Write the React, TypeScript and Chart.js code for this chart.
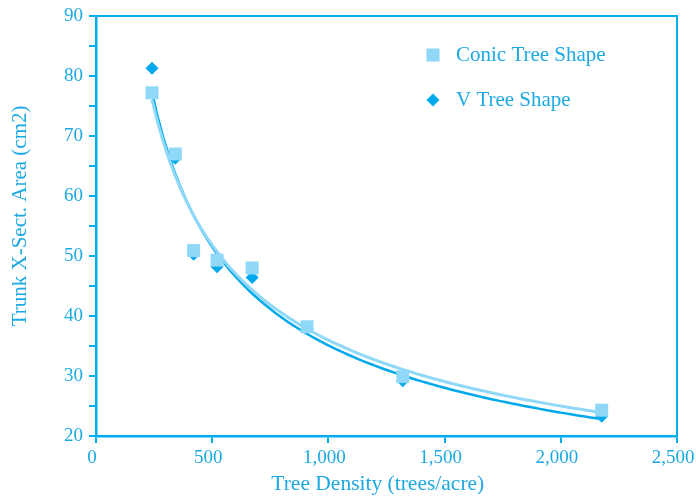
import React, { useEffect, useRef } from "react";
import { Chart, registerables } from "chart.js";

Chart.register(...registerables);

// ---- data ----
const densities = [241, 341, 420, 521, 672, 908, 1320, 2176];
const conicArea = [77.2, 67.0, 50.9, 49.3, 48.0, 38.2, 29.9, 24.3];
const vArea = [81.3, 66.3, 50.3, 48.2, 46.4, 37.9, 29.2, 23.3];
const seriesNames = ["Conic Tree Shape", "V Tree Shape"];
const xTitle = "Tree Density (trees/acre)";
const yTitle = "Trunk X-Sect. Area (cm2)";
const xTickStep = 500;
const yTickStep = 5;

const AXIS = "#00AEEF";
const TEXT = "#1CA9E2";
const LIGHT = "#8FD8F8";
const DARK = "#00A9EC";
const FONT = "'Liberation Serif', 'Times New Roman', serif";

// power-law trendline (least squares in log space), like the spreadsheet trendline
function powerTrend(xs: number[], ys: number[]) {
  const lx = xs.map(Math.log);
  const ly = ys.map(Math.log);
  const n = xs.length;
  const mx = lx.reduce((s, v) => s + v, 0) / n;
  const my = ly.reduce((s, v) => s + v, 0) / n;
  let sxy = 0, sxx = 0;
  for (let i = 0; i < n; i++) {
    sxy += (lx[i] - mx) * (ly[i] - my);
    sxx += (lx[i] - mx) ** 2;
  }
  const b = sxy / sxx;
  const a = Math.exp(my - b * mx);
  const lo = Math.min(...xs), hi = Math.max(...xs);
  const pts: { x: number; y: number }[] = [];
  const steps = 80;
  for (let i = 0; i <= steps; i++) {
    const x = lo + ((hi - lo) * i) / steps;
    pts.push({ x, y: a * Math.pow(x, b) });
  }
  return pts;
}

const overlay = {
  id: "overlay",
  afterDraw(chart: any) {
    const { ctx, chartArea: a } = chart;
    ctx.save();
    // top & right frame
    ctx.strokeStyle = AXIS;
    ctx.lineWidth = 2;
    ctx.beginPath();
    ctx.moveTo(a.left, a.top);
    ctx.lineTo(a.right, a.top);
    ctx.lineTo(a.right, a.bottom);
    ctx.stroke();

    // axis titles
    ctx.fillStyle = TEXT;
    ctx.textAlign = "center";
    ctx.textBaseline = "middle";
    ctx.font = `21.5px ${FONT}`;
    ctx.fillText(xTitle, a.left + (a.right - a.left) * 0.485, a.bottom + 48);
    ctx.save();
    ctx.translate(20, a.top + (a.bottom - a.top) * 0.476);
    ctx.rotate(-Math.PI / 2);
    ctx.font = `21px ${FONT}`;
    ctx.fillText(yTitle, 0, 0);
    ctx.restore();

    // legend
    const lx = a.left + (a.right - a.left) * 0.58;
    const rows = [a.top + 39, a.top + 84];
    ctx.font = `21px ${FONT}`;
    ctx.textAlign = "left";
    // square
    ctx.fillStyle = LIGHT;
    ctx.fillRect(lx - 6.5, rows[0] - 6.5, 13, 13);
    // diamond
    ctx.fillStyle = DARK;
    ctx.beginPath();
    ctx.moveTo(lx, rows[1] - 6.5);
    ctx.lineTo(lx + 6.5, rows[1]);
    ctx.lineTo(lx, rows[1] + 6.5);
    ctx.lineTo(lx - 6.5, rows[1]);
    ctx.closePath();
    ctx.fill();
    ctx.fillStyle = TEXT;
    ctx.fillText(seriesNames[0], lx + 23, rows[0]);
    ctx.fillText(seriesNames[1], lx + 23, rows[1]);
    ctx.restore();
  },
};

export default function App() {
  const ref = useRef<HTMLCanvasElement | null>(null);
  useEffect(() => {
    document.body.style.margin = "0";
    const conicPts = densities.map((x, i) => ({ x, y: conicArea[i] }));
    const vPts = densities.map((x, i) => ({ x, y: vArea[i] }));
    const chart = new Chart(ref.current!, {
      type: "scatter",
      data: {
        datasets: [
          {
            label: seriesNames[0],
            data: conicPts,
            pointStyle: "rect",
            pointRadius: 9.2,
            pointHoverRadius: 9.2,
            backgroundColor: LIGHT,
            borderWidth: 0,
            order: 0,
          },
          {
            label: seriesNames[1],
            data: vPts,
            pointStyle: "rectRot",
            pointRadius: 6.5,
            pointHoverRadius: 6.5,
            backgroundColor: DARK,
            borderWidth: 0,
            order: 1,
          },
          {
            label: "conic trend",
            type: "line",
            data: powerTrend(densities, conicArea),
            borderColor: LIGHT,
            borderWidth: 3,
            pointRadius: 0,
            tension: 0,
            fill: false,
            order: 2,
          } as any,
          {
            label: "v trend",
            type: "line",
            data: powerTrend(densities, vArea),
            borderColor: DARK,
            borderWidth: 2.5,
            pointRadius: 0,
            tension: 0,
            fill: false,
            order: 3,
          } as any,
        ],
      },
      options: {
        animation: false,
        responsive: false,
        maintainAspectRatio: false,
        layout: { padding: { top: 16, right: 19, left: 0, bottom: 0 } },
        plugins: { legend: { display: false }, tooltip: { enabled: false } },
        scales: {
          x: {
            type: "linear",
            min: 0,
            max: 2500,
            ticks: {
              stepSize: xTickStep,
              color: TEXT,
              font: { family: FONT, size: 19 },
              padding: 4,
              labelOffset: -4,
              maxRotation: 0,
              callback: (v: any) => Number(v).toLocaleString("en-US"),
            },
            grid: {
              drawOnChartArea: false,
              drawTicks: true,
              tickLength: 7,
              color: AXIS,
              tickColor: AXIS,
              lineWidth: 2,
            },
            border: { color: AXIS, width: 2.5 },
            afterFit: (s: any) => {
              s.height = 62;
              s.paddingLeft = 0;
              s.paddingRight = 0;
            },
          },
          y: {
            type: "linear",
            min: 20,
            max: 90,
            ticks: {
              stepSize: yTickStep,
              color: TEXT,
              font: { family: FONT, size: 19 },
              padding: 6,
              callback: (v: any) => (Number(v) % 10 === 0 ? String(v) : ""),
            },
            grid: {
              drawOnChartArea: false,
              drawTicks: true,
              tickLength: 7,
              color: AXIS,
              tickColor: AXIS,
              lineWidth: 2,
            },
            border: { color: AXIS, width: 2.5 },
            afterFit: (s: any) => {
              s.width = 96;
              s.paddingTop = 0;
              s.paddingBottom = 0;
            },
          },
        },
      },
      plugins: [overlay],
    });
    return () => chart.destroy();
  }, []);
  return (
    <div style={{ width: 696, height: 498 }}>
      <canvas ref={ref} width={696} height={498} style={{ display: "block" }} />
    </div>
  );
}
